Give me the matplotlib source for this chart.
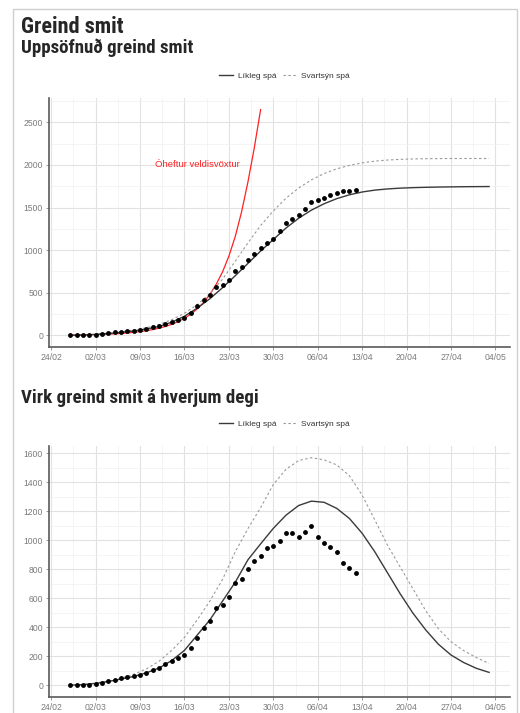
import matplotlib
matplotlib.use('Agg')
import matplotlib.pyplot as plt
import matplotlib.dates as mdates
import matplotlib.ticker as mticker
from matplotlib import font_manager as fm
import pandas as pd
import numpy as np
from matplotlib.patches import Rectangle
from matplotlib.lines import Line2D

# ---------------- data ----------------
obs_dates = pd.date_range('2020-02-27', '2020-04-12', freq='D')
model_dates = pd.date_range('2020-02-27', '2020-05-03', freq='2D')
red_dates = pd.date_range('2020-02-27', '2020-03-28', freq='D')

cum_obs = [0, 0, 1, 3, 10, 12, 25, 35, 45, 50, 55, 65, 80, 100, 115, 135, 160, 185,
           205, 265, 345, 410, 475, 570, 590, 650, 760, 800, 890, 960, 1020, 1085,
           1135, 1220, 1320, 1365, 1415, 1485, 1565, 1585, 1610, 1645, 1670, 1690,
           1700, 1710]
cum_likely = [0, 4, 12, 22, 35, 52, 75, 105, 155, 225, 320, 430, 560, 700, 845, 990,
              1125, 1260, 1375, 1470, 1545, 1605, 1650, 1683, 1705, 1719, 1728, 1734,
              1738, 1741, 1743, 1745, 1746, 1747]
cum_pessim = [0, 4, 13, 26, 42, 63, 90, 128, 185, 260, 360, 490, 660, 870, 1085, 1290,
              1460, 1610, 1730, 1825, 1900, 1955, 1995, 2025, 2045, 2058, 2066, 2071,
              2074, 2075, 2076, 2076, 2076, 2076]
cum_exp = [4, 5, 6, 8, 10, 12, 15, 19, 23, 29, 36, 44, 55, 68, 85, 105, 130, 162, 200,
           250, 310, 385, 480, 600, 745, 930, 1160, 1450, 1800, 2200, 2650]

act_obs = [0, 0, 0, 2, 9, 14, 30, 37, 48, 55, 60, 69, 83, 106, 120, 145, 166, 185, 205,
           254, 323, 395, 446, 533, 554, 610, 704, 730, 801, 854, 894, 944, 960, 995,
           1051, 1051, 1021, 1060, 1101, 1025, 981, 956, 919, 843, 808, 773]
act_likely = [0, 3, 12, 25, 42, 60, 85, 118, 170, 240, 345, 450, 580, 710, 865, 975,
              1082, 1173, 1240, 1270, 1262, 1220, 1150, 1048, 920, 775, 630, 497, 382,
              283, 208, 156, 116, 88]
act_pessim = [0, 4, 14, 28, 48, 75, 112, 165, 240, 330, 450, 580, 730, 920, 1080, 1225,
              1385, 1490, 1550, 1570, 1555, 1520, 1445, 1311, 1140, 965, 815, 665, 515,
              390, 300, 238, 190, 150]

x_tick_dates = pd.date_range('2020-02-24', '2020-05-04', freq='7D')
top_yticks = [0, 500, 1000, 1500, 2000, 2500]
bot_yticks = [0, 200, 400, 600, 800, 1000, 1200, 1400, 1600]

title = 'Greind smit'
sub1 = 'Uppsöfnuð greind smit'
sub2 = 'Virk greind smit á hverjum degi'
leg_labels = ['Líkleg spá', 'Svartsýn spá']
red_label = 'Óheftur veldisvöxtur'

# ---------------- styles ----------------
W, H = 520, 713
def fy(py):
    return 1 - py / H

LIKELY_C = '#3a3a3a'
PESS_C = '#9a9a9a'
RED_C = '#ff2020'
TICK_C = '#7a7a7a'
BODY_FONT = ['Liberation Sans', 'DejaVu Sans']


def _is_condensed(f):
    st = f.stretch
    if isinstance(st, str):
        cond = 'condensed' in st or 'narrow' in st
    else:
        try:
            cond = int(st) < 500
        except Exception:
            cond = False
    return cond or 'Condensed' in f.name or 'Narrow' in f.name


def _weight_num(w):
    table = {'thin': 100, 'extralight': 200, 'light': 300, 'normal': 400,
             'regular': 400, 'book': 400, 'medium': 500, 'semibold': 600,
             'demibold': 600, 'bold': 700, 'extrabold': 800, 'heavy': 900,
             'black': 900}
    if isinstance(w, str):
        return table.get(w.lower(), 400)
    return int(w)


cands = [f for f in fm.fontManager.ttflist
         if _is_condensed(f) and f.style == 'normal' and _weight_num(f.weight) >= 600]
pref = ['Roboto', 'Liberation', 'Open Sans', 'Noto Sans', 'Lato', 'Inter', 'DejaVu']


def _rank(f):
    for i, p in enumerate(pref):
        if f.name.startswith(p):
            return (i, abs(_weight_num(f.weight) - 700))
    return (len(pref), abs(_weight_num(f.weight) - 700))


if cands:
    cands.sort(key=_rank)
    head_prop = dict(fontproperties=fm.FontProperties(fname=cands[0].fname))
    scale = 1.0
else:
    head_prop = dict(family=['Roboto', 'DejaVu Sans'], fontweight='bold')
    scale = 0.9

fig = plt.figure(figsize=(W / 100, H / 100), dpi=100)
fig.patch.set_facecolor('white')

ax1 = fig.add_axes([49.3 / W, fy(346.7), (510 - 49.3) / W, (346.7 - 98.3) / H])
ax2 = fig.add_axes([49.3 / W, fy(696.5), (510 - 49.3) / W, (696.5 - 446.3) / H])

x0 = mdates.date2num(obs_dates.min())
x1 = mdates.date2num(model_dates.max())
xpad = 0.05 * (x1 - x0)

minor_x = [mdates.date2num(d) + 3.5 for d in x_tick_dates[:-1]]


def style_axis(ax, yticks, ymax_data):
    ax.set_xlim(x0 - xpad, x1 + xpad)
    ypad = 0.05 * ymax_data
    ax.set_ylim(-ypad, ymax_data + ypad)
    ax.set_xticks(mdates.date2num(x_tick_dates))
    ax.xaxis.set_major_formatter(mdates.DateFormatter('%d/%m'))
    ax.xaxis.set_minor_locator(mticker.FixedLocator(minor_x))
    ax.set_yticks(yticks)
    step = yticks[1] - yticks[0]
    ax.yaxis.set_minor_locator(mticker.FixedLocator([t + step / 2 for t in yticks]))
    ax.grid(which='major', color='#e2e2e2', lw=0.8)
    ax.grid(which='minor', color='#f0f0f0', lw=0.5)
    ax.set_axisbelow(True)
    for s in ['top', 'right']:
        ax.spines[s].set_visible(False)
    for s in ['left', 'bottom']:
        ax.spines[s].set_color('#5a5a5a')
        ax.spines[s].set_linewidth(1.2)
    ax.tick_params(which='major', length=2.5, width=0.6, color='#888888',
                   labelsize=6.2, labelcolor=TICK_C, pad=2)
    ax.tick_params(which='minor', length=0)
    for lab in ax.get_xticklabels() + ax.get_yticklabels():
        lab.set_family(BODY_FONT)


# ---------------- top chart ----------------
ax1.plot(red_dates, cum_exp, color=RED_C, lw=0.9)
ax1.plot(model_dates, cum_pessim, color=PESS_C, lw=0.8, ls=(0, (2.2, 2.2)))
ax1.plot(model_dates, cum_likely, color=LIKELY_C, lw=1.0)
ax1.plot(obs_dates, cum_obs, 'o', color='black', ms=3.5, mec='none')
ax1.text(pd.Timestamp('2020-03-18'), 2000, red_label, color=RED_C, fontsize=6.8,
         ha='center', va='center', family=BODY_FONT)
style_axis(ax1, top_yticks, max(max(cum_exp), max(cum_pessim)))

# ---------------- bottom chart ----------------
ax2.plot(model_dates, act_pessim, color=PESS_C, lw=0.8, ls=(0, (2.2, 2.2)))
ax2.plot(model_dates, act_likely, color=LIKELY_C, lw=1.0)
ax2.plot(obs_dates, act_obs, 'o', color='black', ms=3.5, mec='none')
style_axis(ax2, bot_yticks, max(max(act_pessim), max(act_likely)))

# ---------------- texts ----------------
head_c = '#262626'
fig.text(21 / W, fy(32.7), title, fontsize=16 * scale, color=head_c,
         va='baseline', ha='left', **head_prop)
fig.text(21 / W, fy(53.3), sub1, fontsize=13.6 * scale, color=head_c,
         va='baseline', ha='left', **head_prop)
fig.text(21 / W, fy(402.7), sub2, fontsize=13.6 * scale, color=head_c,
         va='baseline', ha='left', **head_prop)

handles = [Line2D([], [], color=LIKELY_C, lw=1.0),
           Line2D([], [], color=PESS_C, lw=0.8, ls=(0, (2.2, 2.2)))]
for ycen in (76, 424.3):
    fig.legend(handles, leg_labels, loc='center', bbox_to_anchor=(284.5 / W, fy(ycen)),
               ncol=2, frameon=False, prop={'family': BODY_FONT, 'size': 6},
               handlelength=1.6, columnspacing=0.8, handletextpad=0.6,
               labelcolor='#333333')

# outer frame
fig.add_artist(Rectangle((13 / W, -0.02), (517 - 13) / W, fy(8.5) + 0.02,
                         transform=fig.transFigure, fill=False, ec='#cfcfcf', lw=1.0))

fig.savefig('out.png', dpi=100)
